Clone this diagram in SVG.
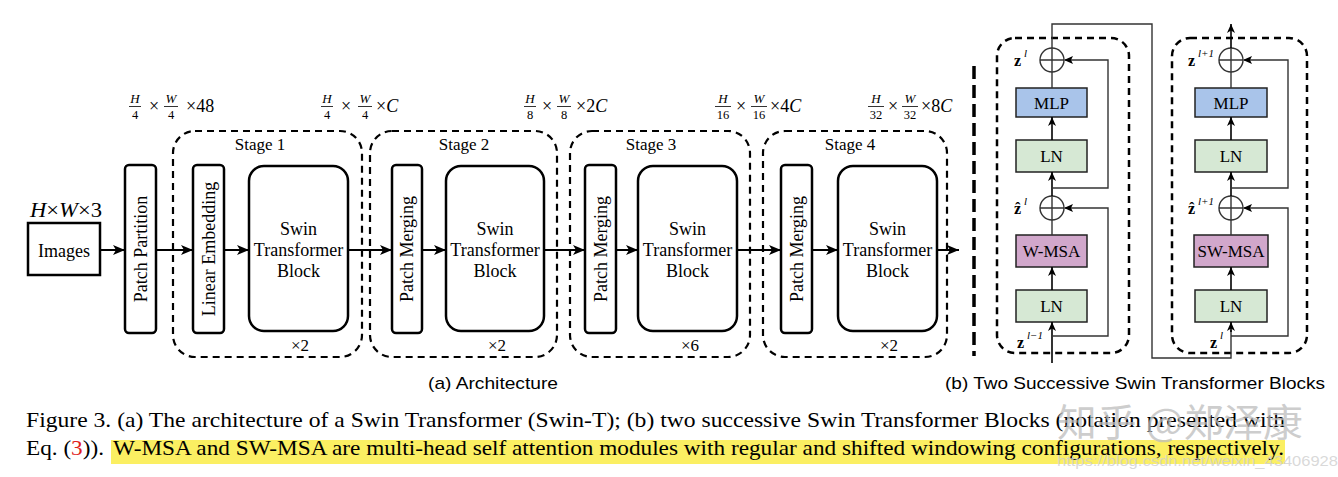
<svg xmlns="http://www.w3.org/2000/svg" width="1338" height="477" viewBox="0 0 1338 477">
<defs>
<marker id="ah" markerUnits="userSpaceOnUse" markerWidth="14" markerHeight="12" refX="12" refY="5" orient="auto">
<path d="M0,0 L12,5 L0,10 L3,5 z" fill="#000"/>
</marker>
<marker id="ahs" markerUnits="userSpaceOnUse" markerWidth="10" markerHeight="10" refX="9" refY="4" orient="auto">
<path d="M0,0 L9,4 L0,8 L2.5,4 z" fill="#000"/>
</marker>
<style>
.serif{font-family:"Liberation Serif","Times New Roman",serif;fill:#000}
.sans{font-family:"Liberation Sans",Arial,sans-serif;fill:#000}
.node{fill:#fff;stroke:#000;stroke-width:2.5}
.stage{fill:none;stroke:#000;stroke-width:2.2;stroke-dasharray:7 5}
.blk{fill:none;stroke:#000;stroke-width:2.5;stroke-dasharray:7 5}
.arr{stroke:#000;stroke-width:2;fill:none;marker-end:url(#ah)}
.thin{stroke:#333;stroke-width:1.4;fill:none}
.tarr{stroke:#000;stroke-width:1.6;fill:none;marker-end:url(#ahs)}
.t18{font-size:18px;text-anchor:middle}
.t17{font-size:17px;text-anchor:middle}
.num{font-size:13px;font-style:italic;text-anchor:middle}
.den{font-size:12.5px;text-anchor:middle}
.op{font-size:18px;text-anchor:middle}
.big{font-size:18px}
.bar{stroke:#000;stroke-width:0.8}
.mlp{fill:#a9c4ea;stroke:#222;stroke-width:1.5}
.ln{fill:#d6e8d4;stroke:#222;stroke-width:1.5}
.msa{fill:#d1a7cb;stroke:#222;stroke-width:1.5}
.plus{fill:#fff;stroke:#333;stroke-width:1.4}
.zl{font-size:16px;font-weight:bold}
.sup{font-size:11px;font-style:italic}
.cap{font-size:21px}
</style>
</defs>

<!-- dimension labels -->
<g id="dims" class="serif">
<g id="dim1">
<text x="135" y="103" class="num">H</text><line class="bar" x1="129" y1="106.5" x2="141" y2="106.5"/><text x="135" y="119" class="den">4</text>
<text x="154" y="112" class="op">×</text>
<text x="171" y="103" class="num">W</text><line class="bar" x1="164" y1="106.5" x2="178" y2="106.5"/><text x="171" y="119" class="den">4</text>
<text x="186" y="112" class="big">×48</text>
</g>
<g id="dim2">
<text x="327" y="103" class="num">H</text><line class="bar" x1="321" y1="106.5" x2="333" y2="106.5"/><text x="327" y="119" class="den">4</text>
<text x="346" y="112" class="op">×</text>
<text x="365" y="103" class="num">W</text><line class="bar" x1="358" y1="106.5" x2="372" y2="106.5"/><text x="365" y="119" class="den">4</text>
<text x="376" y="112" class="big">×<tspan font-style="italic">C</tspan></text>
</g>
<g id="dim3">
<text x="530" y="103" class="num">H</text><line class="bar" x1="524" y1="106.5" x2="536" y2="106.5"/><text x="530" y="119" class="den">8</text>
<text x="547" y="112" class="op">×</text>
<text x="564" y="103" class="num">W</text><line class="bar" x1="557" y1="106.5" x2="571" y2="106.5"/><text x="564" y="119" class="den">8</text>
<text x="576" y="112" class="big">×2<tspan font-style="italic">C</tspan></text>
</g>
<g id="dim4">
<text x="723" y="103" class="num">H</text><line class="bar" x1="715" y1="106.5" x2="731" y2="106.5"/><text x="723" y="119" class="den">16</text>
<text x="741" y="112" class="op">×</text>
<text x="759" y="103" class="num">W</text><line class="bar" x1="751" y1="106.5" x2="767" y2="106.5"/><text x="759" y="119" class="den">16</text>
<text x="770" y="112" class="big">×4<tspan font-style="italic">C</tspan></text>
</g>
<g id="dim5">
<text x="876" y="103" class="num">H</text><line class="bar" x1="868" y1="106.5" x2="884" y2="106.5"/><text x="876" y="119" class="den">32</text>
<text x="893" y="112" class="op">×</text>
<text x="910" y="103" class="num">W</text><line class="bar" x1="902" y1="106.5" x2="918" y2="106.5"/><text x="910" y="119" class="den">32</text>
<text x="921" y="112" class="big">×8<tspan font-style="italic">C</tspan></text>
</g>
</g>

<!-- stage frames -->
<g id="stages">
<g id="stage1"><rect class="stage" x="173" y="131" width="189" height="226" rx="22"/><text class="serif t17" x="260" y="150">Stage 1</text><text class="serif t17" x="300" y="351">×2</text></g>
<g id="stage2"><rect class="stage" x="370" y="131" width="187" height="226" rx="22"/><text class="serif t17" x="464" y="150">Stage 2</text><text class="serif t17" x="497" y="351">×2</text></g>
<g id="stage3"><rect class="stage" x="570" y="131" width="180" height="226" rx="22"/><text class="serif t17" x="651" y="150">Stage 3</text><text class="serif t17" x="690" y="351">×6</text></g>
<g id="stage4"><rect class="stage" x="763" y="131" width="184" height="226" rx="22"/><text class="serif t17" x="850" y="150">Stage 4</text><text class="serif t17" x="889" y="351">×2</text></g>
</g>

<!-- architecture nodes -->
<g id="images"><rect x="28" y="223" width="72" height="52" fill="#fff" stroke="#000" stroke-width="2.5"/><text class="serif t18" x="64" y="257">Images</text>
<text class="serif" x="30" y="217" font-size="20" textLength="72" lengthAdjust="spacingAndGlyphs"><tspan font-style="italic">H</tspan>×<tspan font-style="italic">W</tspan>×3</text></g>
<g id="patch-partition"><rect class="node" x="125" y="165" width="31" height="168" rx="4"/><text class="serif t18" transform="translate(146.5 249) rotate(-90)">Patch Partition</text></g>
<g id="linear-embedding"><rect class="node" x="193" y="165" width="31" height="168" rx="4"/><text class="serif t18" transform="translate(214.5 249) rotate(-90)">Linear Embedding</text></g>
<g id="stb1"><rect class="node" x="249" y="166" width="99" height="165" rx="15"/><text class="serif t18" x="298.5" y="235">Swin</text><text class="serif t18" x="298.5" y="256">Transformer</text><text class="serif t18" x="298.5" y="277">Block</text></g>
<g id="pm2"><rect class="node" x="392" y="165" width="30" height="168" rx="4"/><text class="serif t18" transform="translate(413 249) rotate(-90)">Patch Merging</text></g>
<g id="stb2"><rect class="node" x="446" y="166" width="98" height="165" rx="15"/><text class="serif t18" x="495" y="235">Swin</text><text class="serif t18" x="495" y="256">Transformer</text><text class="serif t18" x="495" y="277">Block</text></g>
<g id="pm3"><rect class="node" x="585" y="165" width="31" height="168" rx="4"/><text class="serif t18" transform="translate(606.5 249) rotate(-90)">Patch Merging</text></g>
<g id="stb3"><rect class="node" x="638" y="166" width="99" height="165" rx="15"/><text class="serif t18" x="687.5" y="235">Swin</text><text class="serif t18" x="687.5" y="256">Transformer</text><text class="serif t18" x="687.5" y="277">Block</text></g>
<g id="pm4"><rect class="node" x="781" y="165" width="31" height="168" rx="4"/><text class="serif t18" transform="translate(802.5 249) rotate(-90)">Patch Merging</text></g>
<g id="stb4"><rect class="node" x="838" y="166" width="99" height="165" rx="15"/><text class="serif t18" x="887.5" y="235">Swin</text><text class="serif t18" x="887.5" y="256">Transformer</text><text class="serif t18" x="887.5" y="277">Block</text></g>

<!-- separator -->
<line x1="974" y1="66" x2="974" y2="356" stroke="#000" stroke-width="3.5" stroke-dasharray="13 6"/>

<!-- block (b) frames -->
<g id="block1-frame"><rect class="blk" x="997" y="38" width="132" height="315" rx="18"/></g>
<g id="block2-frame"><rect class="blk" x="1172" y="38" width="135" height="315" rx="18"/></g>

<!-- block (b) nodes -->
<g id="b1-mlp"><rect class="mlp" x="1016" y="88" width="71" height="29"/><text class="serif t17" x="1051.5" y="108.5">MLP</text></g>
<g id="b1-ln2"><rect class="ln" x="1016" y="140" width="71" height="32"/><text class="serif t17" x="1051.5" y="162">LN</text></g>
<g id="b1-wmsa"><rect class="msa" x="1016" y="235" width="71" height="32"/><text class="serif t17" x="1051.5" y="257">W-MSA</text></g>
<g id="b1-ln1"><rect class="ln" x="1016" y="290" width="71" height="32"/><text class="serif t17" x="1051.5" y="312">LN</text></g>
<g id="b1-plus1"><circle class="plus" cx="1052" cy="60" r="12"/><path class="thin" d="M1040,60 H1064 M1052,48 V72"/></g>
<g id="b1-plus2"><circle class="plus" cx="1052" cy="208" r="12"/><path class="thin" d="M1040,208 H1064 M1052,196 V220"/></g>

<g id="b2-mlp"><rect class="mlp" x="1195" y="88" width="72" height="29"/><text class="serif t17" x="1231" y="108.5">MLP</text></g>
<g id="b2-ln2"><rect class="ln" x="1195" y="140" width="72" height="32"/><text class="serif t17" x="1231" y="162">LN</text></g>
<g id="b2-swmsa"><rect class="msa" x="1194" y="235" width="74" height="32"/><text class="serif t17" x="1231" y="257">SW-MSA</text></g>
<g id="b2-ln1"><rect class="ln" x="1195" y="290" width="72" height="32"/><text class="serif t17" x="1231" y="312">LN</text></g>
<g id="b2-plus1"><circle class="plus" cx="1231" cy="60" r="12"/><path class="thin" d="M1219,60 H1243 M1231,48 V72"/></g>
<g id="b2-plus2"><circle class="plus" cx="1231" cy="208" r="12"/><path class="thin" d="M1219,208 H1243 M1231,196 V220"/></g>

<!-- variable labels -->
<g id="labels" class="serif">
<text x="1014" y="66" class="zl">z</text><text x="1024" y="57" class="sup">l</text>
<text x="1014" y="214" class="zl">ẑ</text><text x="1024" y="205" class="sup">l</text>
<text x="1017" y="348" class="zl">z</text><text x="1027" y="339" class="sup">l−1</text>
<text x="1188" y="66" class="zl">z</text><text x="1198" y="57" class="sup">l+1</text>
<text x="1188" y="214" class="zl">ẑ</text><text x="1198" y="205" class="sup">l+1</text>
<text x="1210" y="348" class="zl">z</text><text x="1220" y="339" class="sup">l</text>
</g>

<!-- connectors -->
<g id="connectors">
<line class="arr" x1="100" y1="250" x2="125" y2="250"/>
<line class="arr" x1="156" y1="250" x2="193" y2="250"/>
<line class="arr" x1="224" y1="250" x2="249" y2="250"/>
<line class="arr" x1="348" y1="250" x2="392" y2="250"/>
<line class="arr" x1="422" y1="250" x2="446" y2="250"/>
<line class="arr" x1="544" y1="250" x2="585" y2="250"/>
<line class="arr" x1="616" y1="250" x2="638" y2="250"/>
<line class="arr" x1="737" y1="250" x2="781" y2="250"/>
<line class="arr" x1="812" y1="250" x2="838" y2="250"/>
<line class="arr" x1="937" y1="250" x2="959" y2="250"/>

<!-- block 1 -->
<line class="tarr" x1="1052" y1="363" x2="1052" y2="322"/>
<polyline class="thin" points="1052,336 1108,336 1108,208 1065,208"/>
<path d="M1064,208 L1073,204 L1071,208 L1073,212 z" fill="#000"/>
<line class="tarr" x1="1052" y1="290" x2="1052" y2="267"/>
<line class="thin" x1="1052" y1="235" x2="1052" y2="220"/>
<line class="tarr" x1="1052" y1="196" x2="1052" y2="172"/>
<polyline class="thin" points="1052,188 1108,188 1108,60 1065,60"/>
<path d="M1064,60 L1073,56 L1071,60 L1073,64 z" fill="#000"/>
<line class="tarr" x1="1052" y1="140" x2="1052" y2="117"/>
<line class="thin" x1="1052" y1="88" x2="1052" y2="72"/>
<polyline class="thin" points="1052,48 1052,24 1152,24 1152,358 1231,358 1231,330"/>
<line class="tarr" x1="1231" y1="332" x2="1231" y2="322"/>

<!-- block 2 -->
<polyline class="thin" points="1231,336 1288,336 1288,208 1244,208"/>
<path d="M1243,208 L1252,204 L1250,208 L1252,212 z" fill="#000"/>
<line class="tarr" x1="1231" y1="290" x2="1231" y2="267"/>
<line class="thin" x1="1231" y1="235" x2="1231" y2="220"/>
<line class="tarr" x1="1231" y1="196" x2="1231" y2="172"/>
<polyline class="thin" points="1231,188 1288,188 1288,60 1244,60"/>
<path d="M1243,60 L1252,56 L1250,60 L1252,64 z" fill="#000"/>
<line class="tarr" x1="1231" y1="140" x2="1231" y2="117"/>
<line class="thin" x1="1231" y1="88" x2="1231" y2="72"/>
<line class="tarr" x1="1231" y1="48" x2="1231" y2="24"/>
</g>

<!-- sub-captions -->
<text class="sans" x="428" y="389" font-size="17" textLength="130" lengthAdjust="spacingAndGlyphs">(a) Architecture</text>
<text class="sans" x="945" y="389" font-size="17" textLength="380" lengthAdjust="spacingAndGlyphs">(b) Two Successive Swin Transformer Blocks</text>

<!-- figure caption -->
<rect x="111" y="440" width="1174" height="24" fill="#fbef62"/>
<text class="serif cap" x="26" y="427" textLength="1259" lengthAdjust="spacingAndGlyphs">Figure 3. (a) The architecture of a Swin Transformer (Swin-T); (b) two successive Swin Transformer Blocks (notation presented with</text>
<text class="serif cap" x="26" y="455" textLength="78" lengthAdjust="spacingAndGlyphs">Eq. (<tspan fill="#e0201b">3</tspan>)).</text>
<text class="serif cap" x="113" y="455" textLength="1171" lengthAdjust="spacingAndGlyphs">W-MSA and SW-MSA are multi-head self attention modules with regular and shifted windowing configurations, respectively.</text>

<!-- watermark -->
<text x="1057" y="436" font-family="'Noto Sans CJK SC','Liberation Sans',sans-serif" font-size="38" fill="#bdbdbd" fill-opacity="0.75" textLength="246" lengthAdjust="spacingAndGlyphs">知乎 @郑泽康</text>
<text x="1057" y="466" font-family="'Liberation Sans',Arial,sans-serif" font-size="15" fill="#cfcfcf" fill-opacity="0.8" textLength="281" lengthAdjust="spacingAndGlyphs">https://blog.csdn.net/weixin_43406928</text>
</svg>
